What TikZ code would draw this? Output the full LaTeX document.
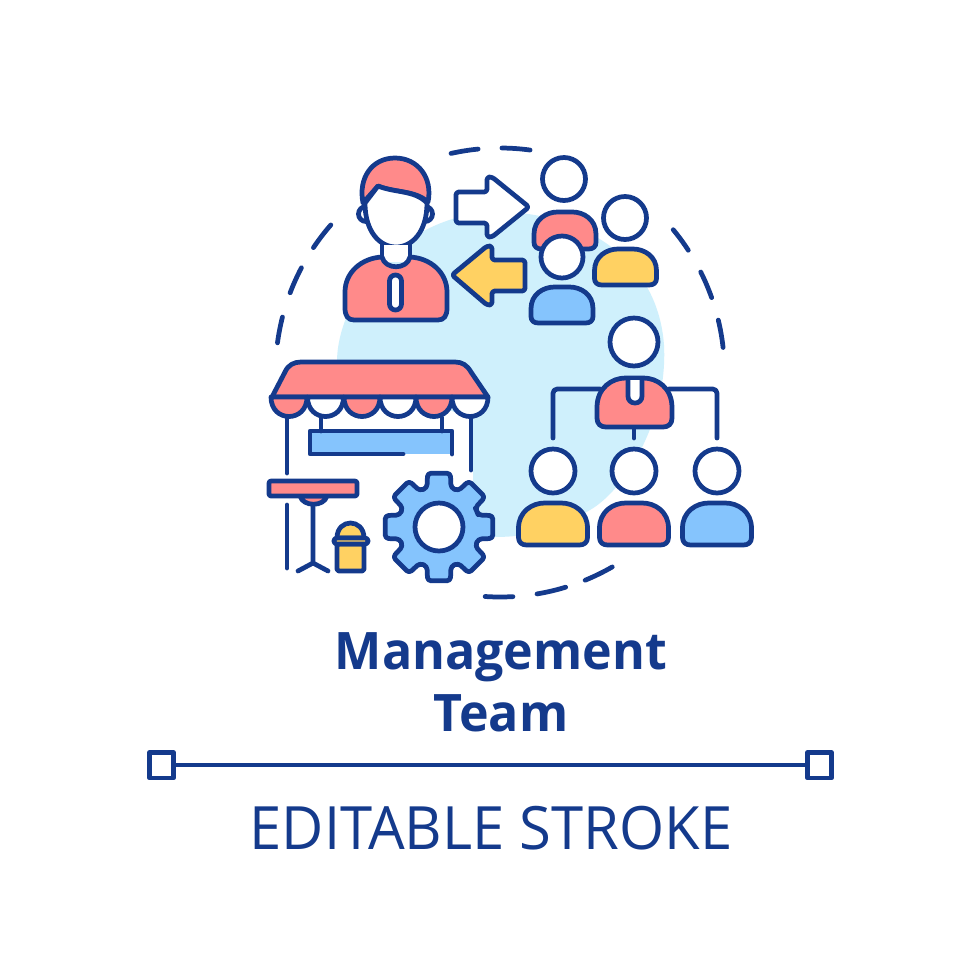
\documentclass[tikz,border=0pt]{standalone}
\usepackage{fontspec}
\setmainfont[FakeStretch=.97]{Open Sans}

\definecolor{navy}{HTML}{143A8C}
\definecolor{coral}{HTML}{FF8A8A}
\definecolor{sky}{HTML}{85C4FD}
\definecolor{sun}{HTML}{FFD162}
\definecolor{mist}{HTML}{CFF0FC}

\tikzset{
  outline/.style={draw=navy, line width=1.35pt, line join=round, line cap=round},
}

% one shoulder shape: centre x, top y, width, height, colour
\newcommand{\torso}[5]{
  \begin{scope}[shift={(#1,#2)}, xscale=#3, yscale=#4]
    \draw[outline, fill=#5]
      (-.5,.6) .. controls (-.5,.2) and (-.3,0) .. (-.12,0)
      -- (.12,0) .. controls (.3,0) and (.5,.2) .. (.5,.6)
      -- (.5,.82) .. controls (.5,.94) and (.45,1) .. (.38,1)
      -- (-.38,1) .. controls (-.45,1) and (-.5,.94) .. (-.5,.82) -- cycle;
  \end{scope}
}
\newcommand{\head}[3]{
  \draw[outline, fill=white] (#1,#2) circle (#3);
}

\begin{document}
\begin{tikzpicture}[x=.1mm, y=-.1mm]
  \useasboundingbox (0,0) rectangle (980,980);
  \fill[white] (0,0) rectangle (980,980);

  % background blob
  \fill[mist]
    (337,362) .. controls (337,300) and (400,212) .. (500,212)
    .. controls (570,212) and (657,250) .. (664,345)
    .. controls (668,420) and (625,490) .. (590,510)
    .. controls (560,528) and (535,537) .. (493,537)
    -- (473,537) -- (473,420) -- cycle;

  % dashes of the ring
  \foreach \from/\to in {-102.6/-95.6, -89.5/-82.3, -39.5/-33, -26.6/-19.5,
      -13.5/-6.4, 60/67.7, 73/80.5, 86.7/93.8, -146.2/-138.9, -159.2/-152.2, -172.4/-165.7}
    \draw[outline] (500,372.5) ++(\from:224.5) arc[start angle=\from, end angle=\to, radius=224.5];

  % manager
  \draw[outline, fill=coral] (363,203) .. controls (358,178) and (372,158) .. (395,158)
    .. controls (418,158) and (433,178) .. (428,202)
    .. controls (415,190) and (395,193) .. (378,186) -- cycle;
  \draw[outline, fill=white] (366,214) circle (7.5);
  \draw[outline, fill=white] (425,214) circle (7.5);
  \draw[outline, fill=white] (365,203) -- (378,186)
    .. controls (395,193) and (415,190) .. (427,203)
    .. controls (427,232) and (412,247) .. (396,247)
    .. controls (380,247) and (365,232) .. (365,203) -- cycle;
  \fill[white] (382,245) rectangle (410,262);
  \draw[outline] (382,243) -- (382,257) (410,257) -- (410,243);
  \draw[outline, fill=coral]
    (345,308) -- (345,292) .. controls (345,272) and (362,258) .. (382,257)
    .. controls (385,270) and (407,270) .. (410,257)
    .. controls (430,258) and (447,272) .. (447,292) -- (447,308)
    .. controls (447,316) and (444,320) .. (438,320) -- (354,320)
    .. controls (348,320) and (345,316) .. (345,308) -- cycle;
  \draw[outline, fill=white, rounded corners=1.7pt] (389.5,275) rectangle (401.5,310);

  % arrows
  \draw[outline, fill=white, rounded corners=.8pt]
    (456,192) -- (487,192) -- (487,177) -- (492,177) -- (529,207) -- (492,237) -- (487,237) -- (487,223) -- (456,223) -- cycle;
  \draw[outline, fill=sun, rounded corners=.8pt]
    (525,260) -- (492,260) -- (492,246) -- (487,246) -- (452,275) -- (487,305) -- (492,305) -- (492,291) -- (525,291) -- cycle;

  % crew at the top
  \head{564}{179}{21.5}
  \torso{565}{212}{62}{37}{coral}
  \head{562}{257}{21}
  \torso{562}{287}{62}{36}{sky}
  \head{625}{218}{21.5}
  \torso{625.5}{249}{62}{36}{sun}

  % chart
  \draw[outline, rounded corners=1.2pt] (553,438) -- (553,389) -- (600,389);
  \draw[outline, rounded corners=1.2pt] (669,389) -- (717,389) -- (717,438);
  \draw[outline] (634,427) -- (634,438);
  \head{634}{342}{24}
  \torso{634.5}{378}{75}{49}{coral}
  \draw[outline, fill=white, rounded corners=1.9pt] (628,380) -- (628,403) -- (642,403) -- (642,380);
  \foreach \i/\c in {553/sun, 634/coral, 717/sky} {
    \head{\i}{471}{22}
    \torso{\i}{503}{69}{42}{\c}
  }

  % awning
  \draw[outline, fill=coral] (272,397) -- (285,372) .. controls (288,365) and (294,362) .. (301,362)
    -- (455,362) .. controls (462,362) and (467,365) .. (471,372) -- (488,397) -- cycle;
  \foreach \x/\c in {271/coral, 307.5/white, 344/coral, 380/white, 416/coral, 452/white}
    \draw[outline, fill=\c] (\x,397) .. controls (\x,423) and (\x+36,423) .. (\x+36,397) -- cycle;
  \draw[outline] (287,417) -- (287,473) (287,505) -- (287,568) (471,417) -- (471,470);

  % sign
  \fill[sky] (310,431) rectangle (452,454);
  \draw[outline] (321,418) -- (321,431) (442,418) -- (442,431);
  \draw[outline] (403,454) -- (310,454) -- (310,431) -- (452,431) -- (452,454);

  % table
  \draw[outline] (313,503) -- (313,563) (298,571) -- (313,563) -- (328,571);
  \draw[outline, fill=coral] (300,496) .. controls (303,507) and (324,507) .. (327,496) -- cycle;
  \draw[outline, fill=coral, rounded corners=.6pt] (269,481) rectangle (357,496);

  % bin
  \draw[outline, fill=sun, rounded corners=.5pt] (337,544) rectangle (364,571);
  \draw[outline, fill=sun] (337,538) .. controls (337,518) and (364,518) .. (364,538) -- cycle;
  \draw[outline, fill=sun, rounded corners=.8pt] (334,538) rectangle (368,544);

  % gear
  \begin{scope}[shift={(439,527)}]
    \draw[outline, fill=sky, rounded corners=1pt] (-22.5:41)
      \foreach \a in {0,45,...,315} {
        -- (\a-17:41) -- (\a-12:55) -- (\a+12:55) -- (\a+17:41)
      } -- cycle;
    \draw[outline, fill=white] (0,0) circle (24);
  \end{scope}

  % caption
  \node[text=navy, anchor=base, inner sep=0, font=\fontsize{14.7}{14.7}\selectfont\bfseries] (title1) at (501,669) {Management};
  \node[text=navy, anchor=base, inner sep=0, font=\fontsize{14.7}{14.7}\selectfont\bfseries] (title2) at (501,731) {Team};
  \node[text=navy, anchor=base, inner sep=0, font=\fontsize{17}{17}\selectfont] (stroke) at (491,849) {EDITABLE STROKE};

  \draw[outline, line cap=butt] (173,765) -- (807,765);
  \draw[outline, fill=white] (149.5,752.5) rectangle (173.5,778);
  \draw[outline, fill=white] (807.5,752.5) rectangle (831.5,778);
\end{tikzpicture}
\end{document}
